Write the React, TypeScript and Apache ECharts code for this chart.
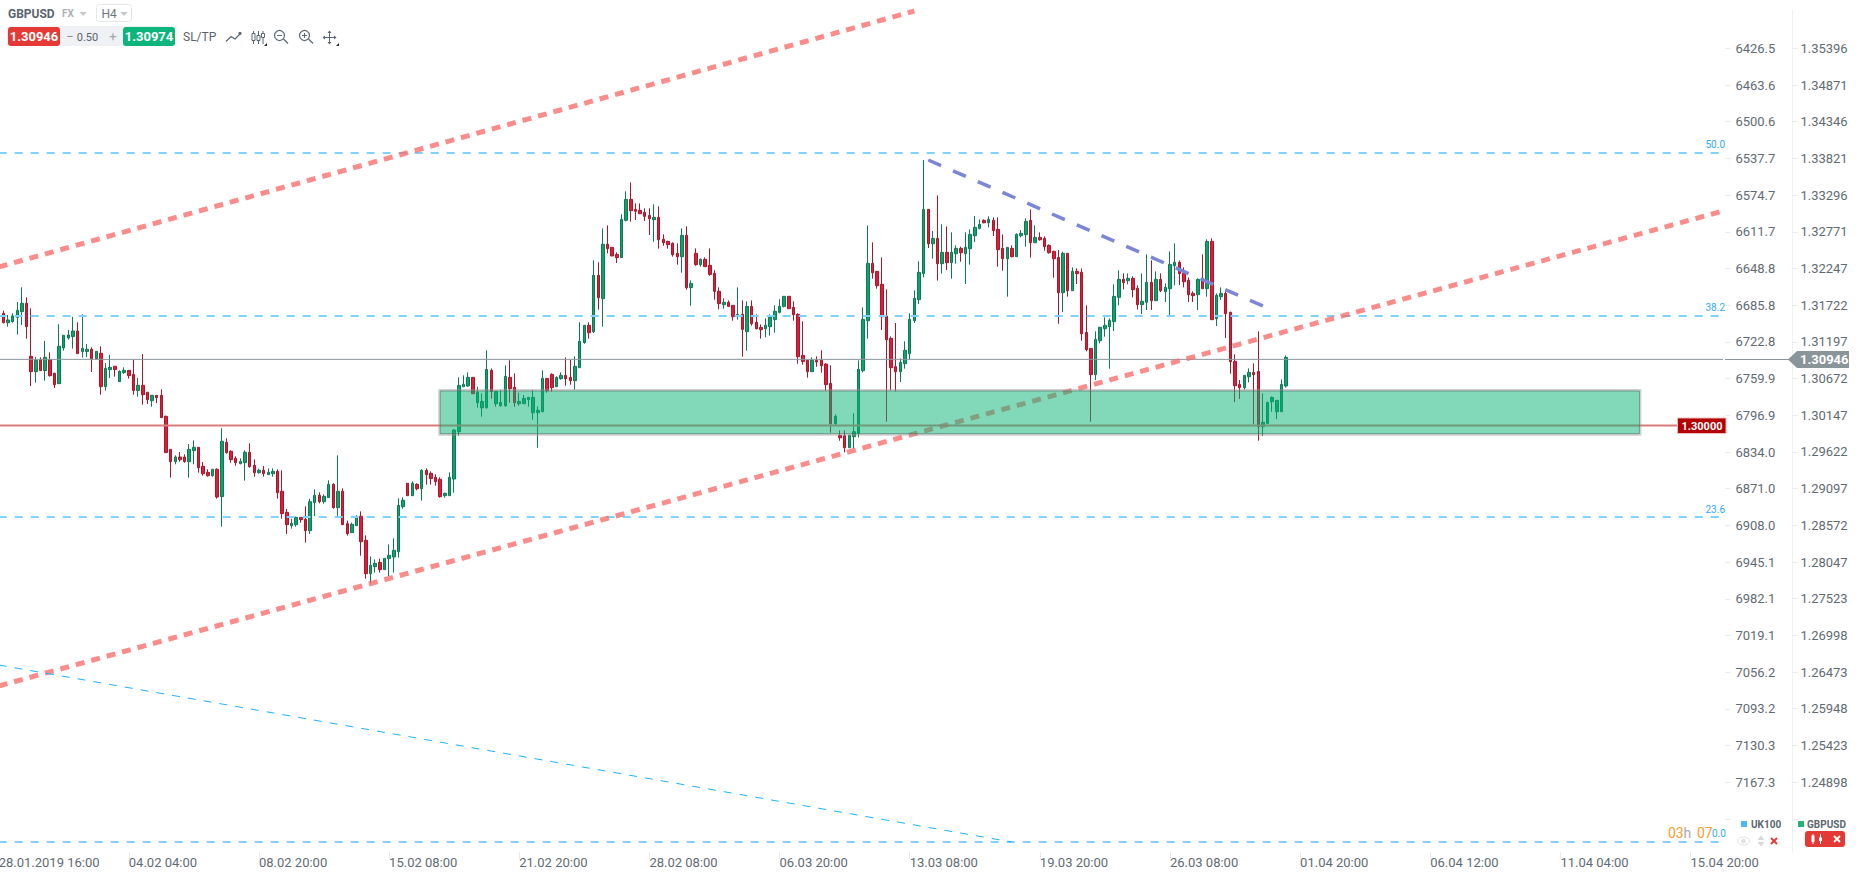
import React, { useEffect, useRef } from "react";
import * as echarts from "echarts";

// [open, close, low, high]
const candlesA = [
[1.31700,1.31615,1.31557,1.31710],[1.31605,1.31471,1.31462,1.31643],[1.31471,1.31510,1.31414,1.31581],[1.31486,1.31567,1.31471,1.31605],[1.31548,1.31648,1.31300,1.31767],[1.31629,1.31748,1.31438,1.31977],[1.31748,1.31414,1.31243,1.31834],[1.30990,1.30770,1.30565,1.31676],[1.30770,1.30933,1.30613,1.30980],[1.30942,1.30785,1.30785,1.30975],
[1.30785,1.30975,1.30642,1.31209],[1.30942,1.30713,1.30699,1.31047],[1.30746,1.30584,1.30537,1.30756],[1.30599,1.31133,1.30599,1.31448],[1.31109,1.31290,1.31071,1.31290],[1.31252,1.31295,1.31228,1.31367],[1.31271,1.31352,1.31099,1.31553],[1.31352,1.31028,1.31028,1.31476],[1.31057,1.31104,1.30971,1.31591],[1.31057,1.31090,1.30980,1.31166],
[1.31090,1.30956,1.30766,1.31118],[1.30956,1.31061,1.30947,1.31061],[1.31033,1.30556,1.30441,1.31133],[1.30556,1.30818,1.30499,1.30894],[1.30799,1.30832,1.30680,1.31009],[1.30847,1.30799,1.30699,1.30847],[1.30627,1.30775,1.30627,1.30789],[1.30756,1.30789,1.30737,1.30832],[1.30789,1.30713,1.30670,1.30789],[1.30732,1.30499,1.30441,1.30937],
[1.30499,1.30575,1.30413,1.30680],[1.30575,1.30441,1.30298,1.31023],[1.30475,1.30370,1.30308,1.30475],[1.30355,1.30432,1.30270,1.30432],[1.30432,1.30398,1.30322,1.30432],[1.30432,1.30112,1.30112,1.30518],[1.30131,1.29612,1.29612,1.30141],[1.29659,1.29483,1.29254,1.29659],[1.29483,1.29550,1.29445,1.29573],[1.29550,1.29511,1.29483,1.29621],
[1.29550,1.29483,1.29468,1.29588],[1.29483,1.29659,1.29254,1.29735],[1.29640,1.29688,1.29445,1.29788],[1.29688,1.29397,1.29325,1.29688],[1.29416,1.29311,1.29282,1.29478],[1.29330,1.29282,1.29268,1.29373],[1.29282,1.29373,1.29268,1.29373],[1.29373,1.28977,1.28953,1.29387],[1.28982,1.29774,1.28553,1.29960],[1.29759,1.29612,1.29597,1.29817],
[1.29631,1.29511,1.29468,1.29645],[1.29530,1.29468,1.29425,1.29559],[1.29454,1.29487,1.29445,1.29530],[1.29468,1.29616,1.29211,1.29645],[1.29616,1.29411,1.29397,1.29745],[1.29430,1.29325,1.29268,1.29516],[1.29325,1.29359,1.29311,1.29383],[1.29359,1.29311,1.29268,1.29421],[1.29297,1.29330,1.29297,1.29387],[1.29311,1.29344,1.29268,1.29387],
[1.29344,1.29039,1.28953,1.29373],[1.29058,1.28739,1.28667,1.29359],[1.28758,1.28581,1.28448,1.28806],[1.28567,1.28600,1.28524,1.28667],[1.28581,1.28686,1.28553,1.28696],[1.28686,1.28653,1.28610,1.28691],[1.28658,1.28496,1.28324,1.28844],[1.28496,1.28910,1.28448,1.28953],[1.28896,1.29001,1.28705,1.29087],[1.29001,1.28910,1.28887,1.29044],
[1.28910,1.28987,1.28882,1.29015],[1.28968,1.29158,1.28968,1.29216],[1.29158,1.28825,1.28810,1.29173],[1.28825,1.29058,1.28705,1.29573],[1.29058,1.28581,1.28581,1.29101],[1.28596,1.28453,1.28424,1.28639],[1.28467,1.28586,1.28467,1.28610],[1.28567,1.28701,1.28567,1.28715],[1.28701,1.28338,1.28138,1.28772],[1.28357,1.27880,1.27809,1.28429],
[1.27880,1.28000,1.27742,1.28128],[1.27980,1.28028,1.27895,1.28085],[1.28042,1.27938,1.27895,1.28095],[1.27938,1.28100,1.27938,1.28100],[1.28095,1.28143,1.27847,1.28300],[1.28119,1.28214,1.27895,1.28386],[1.28195,1.28858,1.28109,1.28958],[1.28839,1.28930,1.28810,1.28972],[1.29173,1.28996,1.28996,1.29173],[1.28996,1.29173,1.28996,1.29201],
[1.29158,1.29096,1.29073,1.29173],[1.29096,1.29359,1.28925,1.29373],[1.29359,1.29297,1.29154,1.29387],[1.29316,1.29240,1.29154,1.29344],[1.29259,1.29197,1.29139,1.29301],[1.29230,1.28982,1.28968,1.29259],[1.28996,1.29030,1.28968,1.29039],[1.28996,1.29259,1.28996,1.29330],
];
const candlesB = [
[1.29234,1.29935,1.29039,1.29945],[1.29911,1.30574,1.29854,1.30689],[1.30555,1.30589,1.30555,1.30717],[1.30565,1.30689,1.30555,1.30760],[1.30689,1.30455,1.30455,1.30689],[1.30326,1.30474,1.30255,1.30555],[1.30255,1.30345,1.30126,1.30460],[1.30255,1.30803,1.30240,1.31075],[1.30789,1.30488,1.30383,1.30817],[1.30312,1.30488,1.30269,1.30493],
[1.30283,1.30331,1.30269,1.30503],[1.30283,1.30703,1.30269,1.30860],[1.30689,1.30527,1.30326,1.30932],[1.30546,1.30326,1.30269,1.30746],[1.30312,1.30345,1.30283,1.30469],[1.30312,1.30388,1.30312,1.30436],[1.30369,1.30403,1.30269,1.30403],[1.30183,1.30403,1.30083,1.30503],[1.30183,1.30217,1.29682,1.30274],[1.30197,1.30674,1.30197,1.30789],
[1.30674,1.30498,1.30469,1.30674],[1.30732,1.30541,1.30484,1.30746],[1.30555,1.30689,1.30555,1.30703],[1.30670,1.30717,1.30655,1.30760],[1.30717,1.30670,1.30570,1.30975],[1.30689,1.30641,1.30584,1.30937],[1.30641,1.30846,1.30512,1.30989],[1.30827,1.31204,1.30827,1.31476],[1.31185,1.31433,1.31170,1.31433],[1.31433,1.31328,1.31242,1.31476],
[1.31342,1.32148,1.31323,1.32363],[1.32148,1.31828,1.31657,1.32334],[1.31814,1.32592,1.31414,1.32820],[1.32592,1.32530,1.32463,1.32863],[1.32549,1.32425,1.32425,1.32549],[1.32448,1.32401,1.32324,1.32477],[1.32401,1.32949,1.32401,1.33021],[1.32935,1.33235,1.32921,1.33350],[1.33235,1.33073,1.32916,1.33479],[1.33092,1.33064,1.32940,1.33178],
[1.33078,1.33030,1.33025,1.33178],[1.33049,1.32992,1.32925,1.33107],[1.33006,1.32959,1.32725,1.33107],[1.32944,1.32978,1.32630,1.33164],[1.32978,1.32658,1.32530,1.33135],[1.32663,1.32615,1.32572,1.32735],[1.32634,1.32587,1.32530,1.32644],[1.32606,1.32444,1.32415,1.32620],[1.32463,1.32415,1.32301,1.32606],[1.32415,1.32720,1.32186,1.32820],
[1.32720,1.31972,1.31943,1.32849],[1.31972,1.32033,1.31714,1.32076],[1.32463,1.32301,1.32286,1.32534],[1.32301,1.32377,1.32272,1.32391],[1.32377,1.32272,1.32272,1.32405],[1.32291,1.32162,1.32143,1.32534],[1.32177,1.31919,1.31800,1.32220],[1.31919,1.31743,1.31662,1.31976],[1.31728,1.31762,1.31671,1.31819],[1.31762,1.31704,1.31695,1.31790],
[1.31719,1.31557,1.31499,1.31719],[1.31557,1.31590,1.31514,1.31976],[1.31590,1.31375,1.30984,1.31790],[1.31342,1.31704,1.31070,1.31776],[1.31704,1.31456,1.31428,1.31790],[1.31476,1.31385,1.31375,1.31590],[1.31404,1.31371,1.31242,1.31447],[1.31385,1.31433,1.31261,1.31533],[1.31414,1.31547,1.31285,1.31590],[1.31518,1.31633,1.31328,1.31719],
[1.31619,1.31704,1.31604,1.31805],[1.31704,1.31848,1.31690,1.31848],[1.31848,1.31671,1.31671,1.31848],[1.31690,1.31585,1.31499,1.31776],[1.31590,1.30984,1.30884,1.31604],[1.31003,1.30917,1.30870,1.31490],[1.30932,1.30770,1.30684,1.30932],[1.30770,1.30932,1.30770,1.30975],[1.30932,1.30908,1.30841,1.30989],[1.30932,1.30855,1.30755,1.31075],
[1.30879,1.30584,1.30498,1.30889],[1.30603,1.30026,1.29897,1.30860],[1.30026,1.30131,1.29997,1.30160],[1.29859,1.29825,1.29782,1.29930],[1.29854,1.29682,1.29616,1.29930],[1.29682,1.29859,1.29682,1.29869],[1.29840,1.29911,1.29673,1.30174],[1.29887,1.30803,1.29830,1.30932],[1.30784,1.31518,1.30760,1.31690],[1.31499,1.32320,1.31242,1.32863],
[1.32320,1.32186,1.32100,1.32620],[1.32205,1.32000,1.31957,1.32205],
];
const candlesC = [
[1.32019,1.31556,1.31366,1.32405],[1.31566,1.31227,1.30054,1.31948],[1.31247,1.30827,1.30503,1.31275],[1.30841,1.30770,1.30488,1.31466],[1.30770,1.30903,1.30622,1.30960],[1.30884,1.31075,1.30813,1.31204],[1.31027,1.31518,1.30946,1.31604],[1.31499,1.31819,1.31466,1.31933],[1.31800,1.32191,1.31738,1.32348],[1.32172,1.33092,1.32119,1.33798],
[1.33092,1.32601,1.32539,1.33092],[1.32601,1.32677,1.32386,1.32782],[1.32677,1.32315,1.32072,1.33292],[1.32315,1.32477,1.32176,1.32878],[1.32477,1.32329,1.32224,1.32849],[1.32329,1.32477,1.32100,1.32763],[1.32458,1.32534,1.32315,1.32577],[1.32534,1.32472,1.32343,1.32558],[1.32458,1.32548,1.32024,1.32763],[1.32529,1.32734,1.32300,1.32806],
[1.32715,1.32835,1.32625,1.32997],[1.32820,1.32878,1.32806,1.32949],[1.32935,1.32901,1.32892,1.32949],[1.32901,1.32949,1.32835,1.32992],[1.32935,1.32787,1.32711,1.32978],[1.32806,1.32515,1.32272,1.32978],[1.32534,1.32386,1.32215,1.32734],[1.32386,1.32548,1.31843,1.32548],[1.32534,1.32415,1.32405,1.32577],[1.32415,1.32734,1.32415,1.32749],
[1.32715,1.32749,1.32691,1.32796],[1.32730,1.32920,1.32558,1.32963],[1.32935,1.32615,1.32401,1.33092],[1.32615,1.32691,1.32615,1.32863],[1.32691,1.32658,1.32644,1.32763],[1.32677,1.32558,1.32501,1.32706],[1.32577,1.32472,1.32458,1.32591],[1.32491,1.32386,1.32114,1.32501],[1.32405,1.31900,1.31456,1.32510],[1.31900,1.32463,1.31623,1.32486],
[1.32463,1.31928,1.31843,1.32463],[1.31928,1.32205,1.31928,1.32262],[1.32205,1.32172,1.32024,1.32248],[1.32191,1.31313,1.31213,1.32248],[1.31332,1.31084,1.31061,1.31719],[1.31103,1.30727,1.30054,1.31108],[1.30727,1.31232,1.30650,1.31347],[1.31213,1.31404,1.31175,1.31413],[1.31385,1.31432,1.31270,1.31547],[1.31413,1.31504,1.30813,1.31533],
[1.31485,1.31847,1.31351,1.32019],[1.31833,1.32091,1.31719,1.32219],[1.32091,1.32043,1.31948,1.32176],[1.32072,1.32105,1.32019,1.32176],[1.32105,1.31943,1.31833,1.32134],[1.31962,1.31728,1.31661,1.32005],[1.31728,1.31776,1.31595,1.32176],[1.31762,1.32048,1.31652,1.32448],[1.32048,1.31785,1.31652,1.32362],[1.31785,1.32091,1.31781,1.32205],
[1.32091,1.31928,1.31909,1.32176],[1.31914,1.31976,1.31766,1.32033],[1.31957,1.32305,1.31571,1.32491],[1.32286,1.32334,1.32005,1.32606],[1.32334,1.32172,1.32010,1.32362],[1.32176,1.32057,1.31976,1.32262],[1.32076,1.31871,1.31766,1.32119],[1.31890,1.31857,1.31766,1.31919],[1.31871,1.32091,1.31652,1.32105],[1.32105,1.31957,1.31957,1.32448],
[1.31957,1.32634,1.31843,1.32663],[1.32634,1.31514,1.31509,1.32677],[1.31528,1.31862,1.31423,1.31890],[1.31843,1.31890,1.31795,1.31976],[1.31890,1.31599,1.31251,1.31919],[1.31619,1.30913,1.30741,1.31628],[1.30917,1.30569,1.30336,1.31018],[1.30588,1.30541,1.30379,1.30650],[1.30541,1.30717,1.30512,1.30717],[1.30698,1.30760,1.30617,1.30817],
[1.30760,1.30727,1.30016,1.30889],[1.30774,1.29983,1.29783,1.31347],[1.29983,1.30045,1.29849,1.30460],[1.30031,1.30331,1.30021,1.30340],[1.30340,1.30402,1.30197,1.30417],[1.30197,1.30360,1.30092,1.30364],[1.30197,1.30588,1.30197,1.30660],[1.30565,1.30975,1.30541,1.31003],
];

const BAR_SLOTS = 372;
const TICK_EVERY = 28;
const timeLabels = ["28.01.2019 16:00","04.02 04:00","08.02 20:00","15.02 08:00","21.02 20:00","28.02 08:00","06.03 20:00","13.03 08:00","19.03 20:00","26.03 08:00","01.04 20:00","06.04 12:00","11.04 04:00","15.04 20:00"];
const gbpTicks = ["1.35396","1.34871","1.34346","1.33821","1.33296","1.32771","1.32247","1.31722","1.31197","1.30672","1.30147","1.29622","1.29097","1.28572","1.28047","1.27523","1.26998","1.26473","1.25948","1.25423","1.24898"];
const ukTicks = ["6426.5","6463.6","6500.6","6537.7","6574.7","6611.7","6648.8","6685.8","6722.8","6759.9","6796.9","6834.0","6871.0","6908.0","6945.1","6982.1","7019.1","7056.2","7093.2","7130.3","7167.3"];
const gbpExtraTick = 1.24373;
const ukExtraTick = 7204.3;

const fibLevels = [1.338984, 1.315665, 1.28691, 1.24041];
const bidLevel = 1.30946;
const roundLevel = 1.3;
const channelUpper = [[0, 1.322675], [197, 1.3593]];
const channelLower = [[0, 1.262733], [371, 1.330687]];
const trendBlue = [[200, 1.337983], [272, 1.317096]];
const thinDiagonal = [[0, 1.265737], [218, 1.240415]];
const zone = [[95, 353, 1.298827, 1.304936]];

const TEXT = "#5f6b73";
const AXIS_FONT = { fontFamily: "Roboto", fontSize: 13, color: TEXT };

const T = (text: string, x: number, y: number, font: string, fill: string, align = "left") => ({
  type: "text", x, y, z: 50, silent: true,
  style: { text, font, fill, align, verticalAlign: "middle", textAlign: align, textVerticalAlign: "middle" },
});
const R = (x: number, y: number, width: number, height: number, fill: string, r = 0, stroke?: string) => ({
  type: "rect", z: 49, silent: true, shape: { x, y, width, height, r },
  style: { fill, stroke: stroke || "none", lineWidth: 1 },
});
const L = (x1: number, y1: number, x2: number, y2: number, stroke: string, lineWidth = 1) => ({
  type: "line", z: 49, silent: true, shape: { x1, y1, x2, y2 }, style: { stroke, lineWidth },
});
const C = (cx: number, cy: number, r: number, stroke: string, fill = "none") => ({
  type: "circle", z: 49, silent: true, shape: { cx, cy, r }, style: { stroke, fill, lineWidth: 1.2 },
});
const P = (points: number[][], fill: string) => ({
  type: "polygon", z: 49, silent: true, shape: { points }, style: { fill },
});

const ICON = "#5b6770";
const toolbar = [
  T("GBPUSD", 8, 13.5, "bold 12px Roboto", "#59646c"),
  T("FX", 62, 13.5, "bold 10px Roboto", "#aab1b6"),
  P([[79.5, 12], [87, 12], [83.2, 16]], "#c6cacd"),
  R(96.5, 4.5, 35, 17, "#fff", 3, "#e3e6e8"),
  T("H4", 101.5, 13.5, "12px Roboto", "#6c767d"),
  P([[120, 12], [128, 12], [124, 16]], "#c6cacd"),
  R(7, 26, 168, 20, "#eff1f4", 2),
  R(8, 27, 52, 19, "#e53935", 3),
  T("1.30946", 34, 36.5, "bold 13px Roboto", "#fff", "center"),
  T("\u2212", 70, 36.5, "13px Roboto", "#8a9298", "center"),
  T("0.50", 87.5, 37, "11px Roboto", "#59646c", "center"),
  T("+", 113, 36.5, "13px Roboto", "#a0a7ac", "center"),
  R(123, 27, 52, 19, "#0cb57b", 3),
  T("1.30974", 149, 36.5, "bold 13px Roboto", "#fff", "center"),
  T("SL/TP", 183, 36.5, "12px Roboto", "#59646c"),
  { type: "polyline", z: 49, silent: true, shape: { points: [[226, 41.5], [231, 36.5], [235, 39], [240, 34]] }, style: { stroke: ICON, fill: "none", lineWidth: 1.2 } },
  C(240, 33.5, 1, ICON, ICON),
  L(253.5, 31, 253.5, 44, ICON), R(252, 33.5, 3, 7, "#fff", 0, ICON),
  L(258.5, 31, 258.5, 44, ICON), R(257, 35.5, 3, 5, "#fff", 0, ICON),
  L(263, 31, 263, 44, ICON), R(261.5, 33.5, 3, 4, "#fff", 0, ICON),
  P([[267, 43], [267, 46], [264, 46]], "#222"),
  C(279.5, 35.5, 5, ICON), L(283.5, 39, 288, 43.5, ICON, 1.2), L(277, 35.5, 282, 35.5, ICON),
  C(304.5, 35.5, 5, ICON), L(308.5, 39, 313, 43.5, ICON, 1.2), L(302, 35.5, 307, 35.5, ICON), L(304.5, 33, 304.5, 38, ICON),
  L(323, 37.5, 336, 37.5, ICON), L(329.5, 31, 329.5, 44, ICON),
  P([[327.5, 33], [331.5, 33], [329.5, 30.5]], ICON), P([[327.5, 42], [331.5, 42], [329.5, 44.5]], ICON),
  P([[325, 35.5], [325, 39.5], [322.5, 37.5]], ICON), P([[334, 35.5], [334, 39.5], [336.5, 37.5]], ICON),
  P([[339, 43], [339, 46], [336, 46]], "#222"),
];
const flags = [
  L(1725, 359.5, 1790, 359.5, "#8a9599"),
  P([[1788, 359.5], [1797, 351], [1849, 351], [1849, 368], [1797, 368]], "#8a9599"),
  T("1.30946", 1800, 359.8, "bold 13px Roboto", "#fff"),
  R(1677.5, 418, 48.5, 15.5, "#b30000", 0, "#eebcbc"),
  T("1.30000", 1702, 426, "bold 11px Roboto", "#fff", "center"),
  T("50.0", 1725, 144.5, "10px Roboto", "#33aaf0", "right"),
  T("38.2", 1725, 307.5, "10px Roboto", "#33aaf0", "right"),
  T("23.6", 1725, 509.5, "10px Roboto", "#33aaf0", "right"),
];
const legend = [
  T("03", 1668, 833, "14px Roboto", "#f6a032"),
  T("h", 1683.5, 833, "14px Roboto", "#a9a9a9"),
  T("07", 1697, 833, "14px Roboto", "#f6a032"),
  T("0.0", 1712, 833, "10px Roboto", "#33aaf0"),
  R(1741, 821, 6, 6, "#4db9f4"),
  T("UK100", 1751, 824, "bold 10px Roboto", "#5b6770"),
  R(1798, 821, 6, 6, "#27b27a"),
  T("GBPUSD", 1807, 824, "bold 10px Roboto", "#5b6770"),
  { type: "ellipse", z: 49, silent: true, shape: { cx: 1743.5, cy: 841, rx: 6, ry: 4 }, style: { stroke: "#dfe3e5", fill: "none", lineWidth: 1 } },
  C(1743.5, 841, 1.8, "#dfe3e5", "#dfe3e5"),
  P([[1757.5, 840], [1764.5, 840], [1761, 835.5]], "#d5d9db"),
  P([[1757.5, 842], [1764.5, 842], [1761, 846.5]], "#d5d9db"),
  L(1771, 838, 1777, 844, "#e53935", 1.8), L(1777, 838, 1771, 844, "#e53935", 1.8),
  R(1805, 831, 40, 16, "#e53935", 3),
  L(1813, 834, 1813, 844, "#fff"), R(1811.5, 835.5, 3, 6.5, "#fff"),
  L(1820.5, 834, 1820.5, 844, "#fff"), R(1819, 837.5, 3, 3.5, "#fff"),
  L(1834, 836, 1840, 842, "#fff", 1.8), L(1840, 836, 1834, 842, "#fff", 1.8),
];

function levelSeries(name: string, data: number[][], color: string, width: number, dash: any, z = 3, yAxisIndex = 0) {
  return {
    name, type: "line", data, xAxisIndex: 0, yAxisIndex, z, symbol: "none", silent: true, clip: true,
    lineStyle: { color, width, type: dash }, animation: false,
  };
}

const overlays = () => [
  ...fibLevels.map((v, i) => levelSeries("fib" + i, [[0, v], [BAR_SLOTS - 1, v]], "#7fd2fb", 2, [8, 8])),
  levelSeries("bid", [[0, bidLevel], [BAR_SLOTS - 1, bidLevel]], "#8a9599", 1, "solid"),
  levelSeries("round", [[0, roundLevel], [BAR_SLOTS - 1, roundLevel]], "#d97c7a", 2, "solid"),
  levelSeries("upper", channelUpper, "rgba(249,101,101,0.75)", 5, [9, 7]),
  levelSeries("lower", channelLower, "rgba(249,101,101,0.75)", 5, [9, 7]),
  levelSeries("blue", trendBlue, "#7b86d6", 3.5, [14, 13]),
  levelSeries("thin", thinDiagonal, "#1fb1ff", 1, [8, 8]),
];

export default function App() {
  const ref = useRef<HTMLDivElement>(null);
  useEffect(() => {
    document.body.style.margin = "0";
    const chart = echarts.init(ref.current!, undefined, { renderer: "svg" });
    const categories = Array.from({ length: BAR_SLOTS }, (_, i) =>
      i % TICK_EVERY === 0 ? timeLabels[i / TICK_EVERY] || "" : "");
    const candles = [...candlesA, ...candlesB, ...candlesC];
    chart.setOption({
      animation: false,
      backgroundColor: "#ffffff",
      grid: { left: -3.65, top: 10, width: 1729.05, height: 842, containLabel: false, outerBoundsMode: "none" },
      xAxis: {
        type: "category", data: categories, boundaryGap: true,
        axisLine: { show: false },
        axisTick: { show: true, alignWithLabel: true, length: 7, interval: (i: number) => i % TICK_EVERY === 0, lineStyle: { color: "#e8eaec" } },
        axisLabel: { ...AXIS_FONT, align: "left", margin: 4, interval: (_: number, v: string) => v !== "", showMinLabel: true, showMaxLabel: true },
        splitLine: { show: false },
      },
      yAxis: [
        {
          type: "value", position: "right", offset: 67, min: 1.238984, max: 1.359442, scale: true,
          axisLine: { show: true, lineStyle: { color: "#eef0f2" } },
          axisTick: { show: true, length: 5, lineStyle: { color: "#e8eaec" }, customValues: [...gbpTicks.map(Number), gbpExtraTick] },
          axisLabel: { ...AXIS_FONT, margin: 8, customValues: gbpTicks.map(Number), formatter: (v: number) => v.toFixed(5) },
          splitLine: { show: false },
        },
        {
          type: "value", position: "right", offset: 0, inverse: true, min: 6387.85, max: 7237.66, scale: true,
          axisLine: { show: false },
          axisTick: { show: true, length: 5, lineStyle: { color: "#e8eaec" }, customValues: [...ukTicks.map(Number), ukExtraTick] },
          axisLabel: { ...AXIS_FONT, margin: 10, customValues: ukTicks.map(Number), formatter: (v: number) => v.toFixed(1) },
          splitLine: { show: false },
        },
      ],
      series: [
        {
          name: "GBPUSD", type: "candlestick", data: candles, z: 2, barWidth: 3, clip: true, silent: true,
          itemStyle: { color: "#0fa36c", color0: "#e01d39", borderColor: "#0e7a55", borderColor0: "#a8172c", borderWidth: 1 },
        },
        ...overlays(),
        {
          name: "zone", type: "custom", z: 6, silent: true, data: zone,
          encode: { x: [0, 1], y: [2, 3] },
          renderItem: (_: any, api: any) => {
            const a = api.coord([api.value(0), api.value(3)]);
            const b = api.coord([api.value(1), api.value(2)]);
            const shape = { x: a[0], y: a[1], width: b[0] - a[0], height: b[1] - a[1] };
            return {
              type: "group",
              children: [
                { type: "rect", shape: { x: shape.x - 1, y: shape.y - 1, width: shape.width + 2, height: shape.height + 2 }, style: { fill: "none", stroke: "rgba(150,150,150,0.45)", lineWidth: 2 } },
                { type: "rect", shape, style: { fill: "rgba(5,179,117,0.5)", stroke: "rgba(70,110,95,0.6)", lineWidth: 1 } },
              ],
            };
          },
        },
      ],
      graphic: [...toolbar, ...flags, ...legend],
    });
    return () => chart.dispose();
  }, []);
  return <div ref={ref} style={{ position: "fixed", left: 0, top: 0, width: 1858, height: 873 }} />;
}
